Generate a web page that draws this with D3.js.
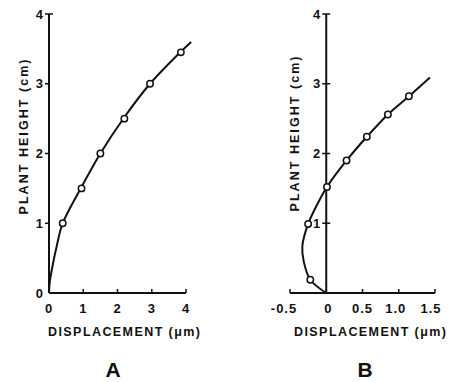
<!DOCTYPE html>
<html>
<head>
<meta charset="utf-8">
<script src="https://cdn.jsdelivr.net/npm/d3@7"></script>
<style>
  body { margin: 0; background: #fff; }
  text { font-family: "Liberation Sans", Arial, sans-serif; font-weight: bold; fill: #111; }
</style>
</head>
<body>
<svg id="chart" width="450" height="382" viewBox="0 0 450 382"></svg>
<script>
// panel A: measured points and the traced curve
const dispA = [0.4, 0.95, 1.5, 2.2, 2.95, 3.85];
const heightA = [1, 1.5, 2, 2.5, 3, 3.45];
const curveA = [[0, 0], [0.02, 0.15], [0.12, 0.43], [0.22, 0.66], [0.4, 1], [0.95, 1.52],
  [1.5, 2], [2.2, 2.52], [2.95, 3], [3.85, 3.46], [4.15, 3.6]];
const ticksA = [0, 1, 2, 3, 4];

// panel B
const dispB = [-0.22, -0.25, 0.01, 0.28, 0.56, 0.85, 1.14];
const heightB = [0.19, 0.99, 1.52, 1.9, 2.24, 2.56, 2.82];
const curveB = [[0, 0], [-0.22, 0.19], [-0.31, 0.45], [-0.33, 0.67], [-0.25, 0.99],
  [-0.12, 1.28], [0.01, 1.52], [0.28, 1.9], [0.56, 2.24], [0.85, 2.56], [1.14, 2.82], [1.43, 3.09]];
const ticksBx = [-0.5, 0, 0.5, 1.0, 1.5];
const tickLabelsBx = ["-0.5", "0", "0.5", "1.0", "1.5"];
const ticksY = [0, 1, 2, 3, 4];

const svg = d3.select("#chart");

function panel(opts) {
  const x = d3.scaleLinear().domain(opts.xDomain).range(opts.xRange);
  const y = d3.scaleLinear().domain([0, 4]).range([293, 14]);
  const g = svg.append("g");

  // axes lines
  g.append("line").attr("x1", x(0)).attr("x2", x(0)).attr("y1", y(0)).attr("y2", y(4))
    .attr("stroke", "#111").attr("stroke-width", 2);
  g.append("line").attr("x1", x(opts.xDomain[0])).attr("x2", x(opts.xDomain[1]))
    .attr("y1", y(0)).attr("y2", y(0)).attr("stroke", "#111").attr("stroke-width", 2);

  // y ticks
  ticksY.forEach(t => {
    if (t > 0) {
      g.append("line").attr("x1", x(0) - 4).attr("x2", x(0) + (opts.bothSides || t === 4 ? 4 : 0))
        .attr("y1", y(t)).attr("y2", y(t)).attr("stroke", "#111").attr("stroke-width", 1.5);
    }
    if (t > 0 || opts.zeroLabel) {
      g.append("text").attr("x", x(0) - 6).attr("y", y(t)).attr("dy", "0.36em")
        .attr("text-anchor", "end").attr("font-size", 13).text(t);
    }
  });

  // x ticks
  opts.xTicks.forEach((t, i) => {
    g.append("line").attr("x1", x(t)).attr("x2", x(t)).attr("y1", y(0)).attr("y2", y(0) - 4)
      .attr("stroke", "#111").attr("stroke-width", 1.5);
    g.append("text").attr("x", x(t) + (opts.xLabelShift[i] || 0)).attr("y", 313)
      .attr("text-anchor", "middle").attr("font-size", 13).attr("letter-spacing", 1)
      .text(opts.xLabels[i]);
  });

  // curve
  g.append("path").datum(opts.curve)
    .attr("d", d3.line().x(d => x(d[0])).y(d => y(d[1])).curve(d3.curveCatmullRom.alpha(0.5)))
    .attr("fill", "none").attr("stroke", "#111").attr("stroke-width", 2);

  // points
  g.selectAll("circle").data(opts.xs).enter().append("circle")
    .attr("cx", d => x(d)).attr("cy", (d, i) => y(opts.ys[i])).attr("r", 3.2)
    .attr("fill", "#fff").attr("stroke", "#111").attr("stroke-width", 1.5);

  // titles
  g.append("text").attr("transform", `translate(${opts.yTitleX},${opts.yTitleY}) rotate(-90)`)
    .attr("text-anchor", "middle").attr("dy", "0.35em").attr("font-size", 12.5)
    .attr("textLength", 155).attr("lengthAdjust", "spacing").text("PLANT HEIGHT (cm)");
  g.append("text").attr("x", opts.xTitleX).attr("y", 336).attr("text-anchor", "middle")
    .attr("font-size", 12.5).attr("textLength", 152).attr("lengthAdjust", "spacing")
    .text("DISPLACEMENT (μm)");
  g.append("text").attr("x", opts.letterX).attr("y", 377).attr("text-anchor", "middle")
    .attr("font-size", 21).text(opts.letter);
}

panel({
  xDomain: [0, 4], xRange: [49, 186], xTicks: ticksA, xLabels: ticksA.map(String), xLabelShift: [],
  curve: curveA, xs: dispA, ys: heightA, zeroLabel: true, bothSides: false,
  yTitleX: 24, yTitleY: 137, xTitleX: 124, letterX: 113, letter: "A"
});

panel({
  xDomain: [-0.5, 1.5], xRange: [290, 435], xTicks: ticksBx, xLabels: tickLabelsBx,
  xLabelShift: [-6, 2, 0, -3, -4],
  curve: curveB, xs: dispB, ys: heightB, zeroLabel: false, bothSides: true,
  yTitleX: 295, yTitleY: 134, xTitleX: 370, letterX: 365, letter: "B"
});
</script>
</body>
</html>
